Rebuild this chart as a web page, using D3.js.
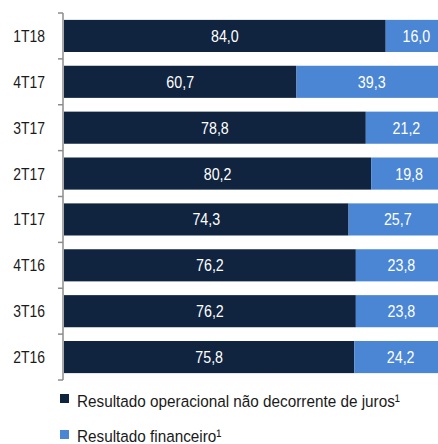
<!DOCTYPE html>
<html>
<head>
<meta charset="utf-8">
<script src="https://cdn.jsdelivr.net/npm/d3@7"></script>
<style>
  body { margin: 0; background: #fff; }
  svg text { font-family: "Liberation Sans", Arial, sans-serif; }
</style>
</head>
<body>
<svg class="chart" width="438" height="444"></svg>
<script>
// data
var periods = [ "1T18", "4T17", "3T17", "2T17", "1T17", "4T16", "3T16", "2T16" ];
var operacional = [ 84.0, 60.7, 78.8, 80.2, 74.3, 76.2, 76.2, 75.8 ];
var financeiro = [ 16.0, 39.3, 21.2, 19.8, 25.7, 23.8, 23.8, 24.2 ];
var legendLabels = [ "Resultado operacional não decorrente de juros¹", "Resultado financeiro¹" ];
var colors = [ "#10243f", "#4a86d3" ];

// narrow look: squeeze text horizontally
function at( tx, ty, k ) { return "translate(" + tx + "," + ty + ") scale(" + ( k || 0.82 ) + ",1)"; }

var svg = d3.select( ".chart" );

var y = d3.scaleBand()
	.domain( periods )
	.range( [ 13, 380 ] )
	.paddingInner( 0.3 )
	.paddingOuter( 0.15 );

var x = d3.scaleLinear()
	.domain( [ 0, 100 ] )
	.range( [ 64, 447 ] );

var fmt = function( v ) { return d3.format( ".1f" )( v ).replace( ".", "," ); };

// build stacked rows
var rows = periods.map( function( p, i ) {
	return { period: p, segs: [
		{ x0: 0, x1: operacional[i], v: operacional[i], c: colors[0] },
		{ x0: operacional[i], x1: operacional[i] + financeiro[i], v: financeiro[i], c: colors[1] }
	] };
} );

var row = svg.selectAll( ".row" )
	.data( rows )
	.enter()
	.append( "g" )
		.attr( "class", "row" )
		.attr( "transform", function( d ) { return "translate(0," + y( d.period ) + ")"; } );

row.selectAll( "rect" )
	.data( function( d ) { return d.segs; } )
	.enter()
	.append( "rect" )
		.attr( "x", function( d ) { return x( d.x0 ); } )
		.attr( "y", 0 )
		.attr( "width", function( d ) { return x( d.x1 ) - x( d.x0 ); } )
		.attr( "height", y.bandwidth() )
		.style( "fill", function( d ) { return d.c; } );

row.selectAll( "text" )
	.data( function( d ) { return d.segs; } )
	.enter()
	.append( "text" )
		.attr( "transform", function( d ) { return at( ( x( d.x0 ) + x( d.x1 ) ) / 2, y.bandwidth() / 2 + 6, 0.84 ); } )
		.attr( "text-anchor", "middle" )
		.style( "font-size", "17px" )
		.style( "fill", "#fff" )
		.text( function( d ) { return fmt( d.v ); } );

// axis with ticks between categories
var axis = svg.append( "g" ).attr( "class", "axis" );
var r = y.range();
axis.append( "line" )
	.attr( "x1", 63 ).attr( "x2", 63 )
	.attr( "y1", r[0] ).attr( "y2", r[1] )
	.style( "stroke", "#8c8c8c" )
	.style( "stroke-width", 1.5 );

axis.selectAll( ".tick" )
	.data( d3.range( periods.length + 1 ) )
	.enter()
	.append( "line" )
		.attr( "class", "tick" )
		.attr( "x1", 58 ).attr( "x2", 63 )
		.attr( "y1", function( i ) { return r[0] + i * y.step(); } )
		.attr( "y2", function( i ) { return r[0] + i * y.step(); } )
		.style( "stroke", "#8c8c8c" )
		.style( "stroke-width", 1.5 );

axis.selectAll( ".label" )
	.data( periods )
	.enter()
	.append( "text" )
		.attr( "class", "label" )
		.attr( "transform", function( d ) { return at( 45, y( d ) + y.bandwidth() / 2 + 6 ); } )
		.attr( "text-anchor", "end" )
		.style( "font-size", "17px" )
		.style( "fill", "#1a1a1a" )
		.text( function( d ) { return d; } );

// legend
var legend = svg.append( "g" ).attr( "class", "legenda" );
for ( var q = 0; q < legendLabels.length; q++ ) {
	legend.append( "rect" )
		.attr( "x", 60 )
		.attr( "y", 394 + q * 36 )
		.attr( "width", 9 )
		.attr( "height", 9 )
		.style( "fill", colors[q] );
	legend.append( "text" )
		.attr( "transform", at( 77, 407 + q * 35, 0.9 ) )
		.style( "font-size", "17px" )
		.style( "fill", "#1a1a1a" )
		.text( legendLabels[q] );
}
</script>
</body>
</html>
